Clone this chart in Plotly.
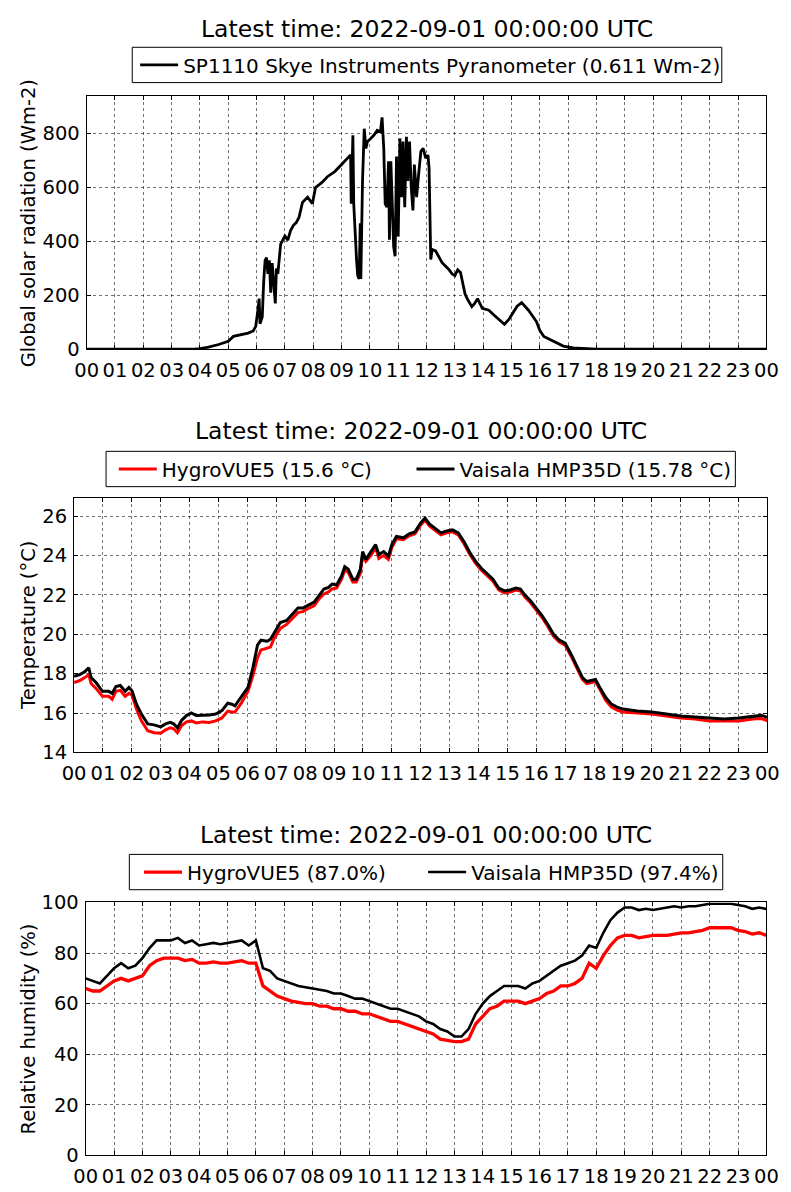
import plotly.graph_objects as go

# ---------------- data ----------------
hour_ticks = list(range(25))
hour_labels = ["00", "01", "02", "03", "04", "05", "06", "07", "08", "09", "10", "11",
               "12", "13", "14", "15", "16", "17", "18", "19", "20", "21", "22", "23", "00"]

solar_hours = [0.0, 1.0, 2.0, 3.0, 3.8, 4.0, 4.3, 4.66, 5.0, 5.18, 5.35, 5.53, 5.7, 5.88, 5.97,
               6.05, 6.09, 6.12, 6.2, 6.25, 6.3, 6.35, 6.4, 6.45, 6.5, 6.55, 6.6, 6.66, 6.7, 6.75,
               6.85, 6.95, 7.0, 7.1, 7.2, 7.3, 7.4, 7.5, 7.62, 7.8, 7.97, 8.08, 8.3, 8.5, 8.77,
               9.0, 9.23, 9.32, 9.34, 9.4, 9.43, 9.48, 9.53, 9.57, 9.62, 9.66, 9.68, 9.74, 9.8,
               9.86, 9.91, 10.03, 10.15, 10.26, 10.37, 10.43, 10.49, 10.54, 10.6, 10.66, 10.69,
               10.74, 10.8, 10.84, 10.89, 10.94, 11.0, 11.06, 11.12, 11.17, 11.23, 11.29, 11.34,
               11.4, 11.46, 11.52, 11.57, 11.65, 11.72, 11.8, 11.88, 11.97, 12.05, 12.09, 12.15,
               12.2, 12.32, 12.45, 12.55, 12.78, 12.9, 13.0, 13.1, 13.2, 13.3, 13.36, 13.45, 13.6,
               13.7, 13.8, 13.97, 14.2, 14.35, 14.5, 14.75, 14.9, 15.0, 15.2, 15.36, 15.6, 15.88,
               16.0, 16.14, 16.3, 16.49, 16.83, 17.18, 17.7, 18.0, 20.0, 22.0, 24.0]
solar_wm2 = [0.5, 0.4, 0.5, 0.5, 1, 3, 8, 18, 30, 48, 52, 55, 60, 68, 85,
             150, 188, 95, 120, 250, 330, 340, 280, 330, 210, 320, 250, 170, 300, 280,
             390, 410, 420, 405, 440, 460, 470, 490, 545, 564, 540, 600, 618, 640, 660,
             685, 709, 721, 540, 794, 539, 406, 330, 273, 261, 467, 261, 624, 818,
             745, 770, 782, 795, 812, 806, 860, 745, 540, 527, 697, 406,
             697, 491, 380, 345, 715, 418, 782, 564, 770, 527, 788, 624,
             770, 600, 515, 685, 564, 648, 733, 745, 709, 720, 673, 333,
             370, 365, 340, 321, 297, 280, 273, 295, 285, 240, 205, 185, 158,
             170, 188, 152, 145, 130, 115, 93, 110, 127, 160, 173, 145, 103,
             70, 48, 40, 30, 12, 5, 1, 0.5, 0.5, 0.5, 0.5]

temp_hours = [0.0, 0.2, 0.37, 0.51, 0.59, 0.76, 0.98, 1.2, 1.32, 1.45, 1.6, 1.77, 1.9, 2.01,
              2.16, 2.33, 2.55, 2.77, 3.0, 3.17, 3.33, 3.45, 3.58, 3.72, 3.89, 4.06, 4.23, 4.45,
              4.68, 4.9, 5.12, 5.32, 5.46, 5.57, 5.79, 6.02, 6.19, 6.35, 6.47, 6.69, 6.8, 6.91,
              7.14, 7.36, 7.58, 7.75, 7.92, 8.09, 8.31, 8.48, 8.65, 8.81, 8.93, 9.09, 9.26, 9.37,
              9.49, 9.65, 9.77, 9.91, 9.99, 10.1, 10.27, 10.44, 10.55, 10.72, 10.88, 11.0, 11.16,
              11.4, 11.6, 11.8, 12.0, 12.15, 12.3, 12.5, 12.7, 12.9, 13.1, 13.3, 13.5, 13.7, 13.9,
              14.1, 14.3, 14.5, 14.7, 14.9, 15.1, 15.3, 15.45, 15.6, 15.8, 16.0, 16.2, 16.4, 16.6,
              16.8, 17.0, 17.2, 17.4, 17.6, 17.75, 17.9, 18.05, 18.2, 18.4, 18.6, 18.8, 19.0, 19.5,
              20.0, 20.5, 21.0, 21.5, 22.0, 22.5, 23.0, 23.5, 23.8, 24.0]
temp_vaisala = [17.87, 17.95, 18.1, 18.3, 17.8, 17.55, 17.1, 17.1, 17.0, 17.35, 17.4, 17.1, 17.3, 17.12,
                16.45, 15.95, 15.45, 15.4, 15.3, 15.45, 15.53, 15.45, 15.25, 15.62, 15.87, 16.0, 15.87, 15.87,
                15.9, 15.95, 16.12, 16.5, 16.45, 16.37, 16.8, 17.3, 18.3, 19.45, 19.7, 19.65, 19.75, 20.05,
                20.6, 20.7, 21.05, 21.33, 21.33, 21.46, 21.63, 21.96, 22.3, 22.38, 22.55, 22.5, 22.96, 23.43,
                23.3, 22.8, 22.8, 23.3, 24.2, 23.8, 24.2, 24.55, 24.05, 24.2, 23.97, 24.55, 24.97,
                24.9, 25.1, 25.2, 25.65, 25.9, 25.6, 25.35, 25.15, 25.25, 25.3, 25.15, 24.7, 24.15, 23.7,
                23.35, 23.1, 22.8, 22.35, 22.2, 22.25, 22.35, 22.3, 22.0, 21.7, 21.35, 20.95, 20.5, 20.0,
                19.7, 19.55, 19.0, 18.4, 17.8, 17.6, 17.65, 17.7, 17.3, 16.8, 16.45, 16.3, 16.2, 16.1,
                16.05, 15.95, 15.85, 15.8, 15.75, 15.7, 15.75, 15.85, 15.88, 15.78]
temp_hygrovue = [17.55, 17.65, 17.8, 17.95, 17.5, 17.25, 16.85, 16.85, 16.7, 17.1, 17.15, 16.85, 17.0, 16.9,
                 16.2, 15.6, 15.1, 15.0, 14.98, 15.15, 15.25, 15.2, 15.0, 15.35, 15.55, 15.6, 15.5, 15.55,
                 15.52, 15.6, 15.75, 16.1, 16.05, 16.05, 16.5, 17.1, 17.9, 18.8, 19.2, 19.3, 19.35, 19.75,
                 20.3, 20.5, 20.85, 21.1, 21.15, 21.3, 21.45, 21.8, 22.05, 22.15, 22.3, 22.35, 22.8, 23.25,
                 23.15, 22.65, 22.65, 23.1, 24.0, 23.7, 24.0, 24.4, 23.85, 24.0, 23.8, 24.4, 24.85,
                 24.8, 25.0, 25.1, 25.55, 25.8, 25.5, 25.25, 25.05, 25.15, 25.2, 25.05, 24.6, 24.05, 23.6,
                 23.25, 23.0, 22.7, 22.25, 22.1, 22.15, 22.25, 22.2, 21.9, 21.6, 21.25, 20.85, 20.4, 19.9,
                 19.6, 19.45, 18.9, 18.3, 17.7, 17.5, 17.55, 17.6, 17.2, 16.65, 16.3, 16.15, 16.05, 16.0,
                 15.95, 15.85, 15.75, 15.7, 15.6, 15.6, 15.6, 15.7, 15.72, 15.6]

rh_hours = [0.0, 0.25, 0.5, 0.75, 1.0, 1.25, 1.5, 1.75, 2.0, 2.25, 2.5, 2.75, 3.0, 3.25, 3.5, 3.75,
            4.0, 4.25, 4.5, 4.75, 5.0, 5.25, 5.5, 5.75, 6.0, 6.25, 6.5, 6.75, 7.0, 7.25, 7.5, 7.75,
            8.0, 8.25, 8.5, 8.75, 9.0, 9.25, 9.5, 9.75, 10.0, 10.25, 10.5, 10.75, 11.0, 11.25, 11.5, 11.75,
            12.0, 12.25, 12.5, 12.75, 13.0, 13.25, 13.5, 13.75, 14.0, 14.25, 14.5, 14.75, 15.0, 15.25, 15.5, 15.75,
            16.0, 16.25, 16.5, 16.75, 17.0, 17.25, 17.5, 17.75, 18.0, 18.25, 18.5, 18.75, 19.0, 19.25, 19.5, 19.75,
            20.0, 20.25, 20.5, 20.75, 21.0, 21.25, 21.5, 21.75, 22.0, 22.25, 22.5, 22.75, 23.0, 23.25, 23.5, 23.75, 24.0]
rh_vaisala = [70, 69, 68, 71, 74, 76, 74, 75, 78, 82, 85, 85, 85, 86, 84, 85,
              83, 83.5, 84, 83.5, 84, 84.5, 85, 83, 85, 74, 73, 70, 69, 68, 67, 66.5,
              66, 65.5, 65, 64, 64, 63, 62, 62, 61, 60, 59, 58, 58, 57, 56, 55,
              53, 52, 50, 49, 47, 47, 50, 56, 60, 63, 65, 67, 67, 67, 66, 68,
              69, 71, 73, 75, 76, 77, 79, 83, 82, 88, 93, 96, 98, 98, 97, 97.5,
              97, 97.5, 98, 98.5, 98, 98.5, 98.5, 99, 99.5, 99.5, 99.5, 99.5, 99, 98.5, 97.5, 98, 97.4]
rh_hygrovue = [66, 65, 65, 67, 69, 70, 69, 70, 71, 75, 77, 78, 78, 78, 77, 77.5,
               76, 76, 76.5, 76, 76, 76.5, 77, 76, 76, 67, 65, 63, 62, 61, 60.5, 60,
               60, 59, 59, 58, 58, 57, 57, 56, 56, 55, 54, 53, 53, 52, 51, 50,
               49, 48, 46, 45.5, 45, 45, 46, 52, 55, 58, 59, 61, 61, 61, 60, 61,
               62, 64, 65, 67, 67, 68, 70, 76, 74, 79, 83, 86, 87, 87, 86, 86.5,
               87, 87, 87, 87.5, 88, 88, 88.5, 89, 90, 90, 90, 90, 89, 88.5, 87.5, 88, 87]

title_text = "Latest time: 2022-09-01 00:00:00 UTC"
solar_name = "SP1110 Skye Instruments Pyranometer (0.611 Wm-2)"
temp_names = ["HygroVUE5 (15.6 °C)", "Vaisala HMP35D (15.78 °C)"]
rh_names = ["HygroVUE5 (87.0%)", "Vaisala HMP35D (97.4%)"]
ylabels = ["Global solar radiation (Wm-2)", "Temperature (°C)", "Relative humidity (%)"]

# ---------------- layout helpers ----------------
W, H = 791, 1192
FONT = "DejaVu Sans"
FS = 19.5


def px_x(p):
    return p / W


def px_y(p):
    return 1 - p / H


fig = go.Figure()

fig.add_trace(go.Scatter(x=solar_hours, y=solar_wm2, mode="lines", name=solar_name,
                         line=dict(color="black", width=2.8), xaxis="x", yaxis="y", legend="legend"))
fig.add_trace(go.Scatter(x=temp_hours, y=temp_hygrovue, mode="lines", name=temp_names[0],
                         line=dict(color="#ff0000", width=3), xaxis="x2", yaxis="y2", legend="legend2"))
fig.add_trace(go.Scatter(x=temp_hours, y=temp_vaisala, mode="lines", name=temp_names[1],
                         line=dict(color="black", width=3), xaxis="x2", yaxis="y2", legend="legend3"))
fig.add_trace(go.Scatter(x=rh_hours, y=rh_hygrovue, mode="lines", name=rh_names[0],
                         line=dict(color="#ff0000", width=3.3), xaxis="x3", yaxis="y3", legend="legend4"))
fig.add_trace(go.Scatter(x=rh_hours, y=rh_vaisala, mode="lines", name=rh_names[1],
                         line=dict(color="black", width=2.6), xaxis="x3", yaxis="y3", legend="legend5"))

panels = [
    # (left, right, top, bottom, yrange, ytickvals)
    (77, 778, 87, 345, [0, 938], [0, 200, 400, 600, 800]),
    (64, 779, 497, 756, [14, 26.9], [14, 16, 18, 20, 22, 24, 26]),
    (76, 778, 909, 1167, [0, 100], [0, 20, 40, 60, 80, 100]),
]

axis_common = dict(showline=True, linecolor="black", linewidth=1, mirror="ticks",
                   ticks="inside", ticklen=4, tickwidth=1, tickcolor="black",
                   showgrid=True, gridcolor="rgba(0,0,0,0.55)", griddash="dot", gridwidth=1,
                   zeroline=False, tickfont=dict(family=FONT, size=FS, color="black"))

for i, (l, r, t, b, yr, ytv) in enumerate(panels):
    sfx = "" if i == 0 else str(i + 1)
    fig.layout["xaxis" + sfx] = dict(domain=[px_x(l), px_x(r)], range=[0, 24],
                                     tickvals=hour_ticks, ticktext=hour_labels, tickangle=0,
                                     ticklabelstandoff=3, anchor="y" + sfx, **axis_common)
    fig.layout["yaxis" + sfx] = dict(domain=[px_y(b), px_y(t)], range=yr, tickvals=ytv,
                                     ticklabelstandoff=2, anchor="x" + sfx, **axis_common)

annotations = []
for (l, r, t, b, yr, ytv), yc in zip(panels, (18, 428, 840)):
    annotations.append(dict(text=title_text, x=px_x((l + r) / 2), y=px_y(yc), xref="paper", yref="paper",
                            xanchor="center", yanchor="middle", showarrow=False,
                            font=dict(family=FONT, size=23.5, color="black")))
for lab, yc in zip(ylabels, (216, 626.5, 1038)):
    annotations.append(dict(text=lab, x=px_x(17), y=px_y(yc), xref="paper", yref="paper",
                            xanchor="center", yanchor="middle", showarrow=False, textangle=-90,
                            font=dict(family=FONT, size=FS, color="black")))

# legend frames (left, right, top, bottom) in pixels
legend_boxes = [(124, 732, 37, 73), (97, 746, 449, 485), (121, 733, 860, 896)]
shapes = [dict(type="rect", xref="paper", yref="paper",
               x0=px_x(l), x1=px_x(r), y0=px_y(b), y1=px_y(t),
               line=dict(color="black", width=1), fillcolor="rgba(0,0,0,0)")
          for (l, r, t, b) in legend_boxes]

legend_common = dict(orientation="h", xanchor="left", yanchor="middle", bgcolor="rgba(0,0,0,0)",
                     borderwidth=0, itemwidth=38,
                     font=dict(family=FONT, size=20, color="black"))

fig.update_layout(
    width=W, height=H, autosize=False,
    margin=dict(l=0, r=0, t=0, b=0),
    paper_bgcolor="white", plot_bgcolor="white",
    showlegend=True,
    legend=dict(x=px_x(127), y=px_y(55), **legend_common),
    legend2=dict(x=px_x(105), y=px_y(467), **legend_common),
    legend3=dict(x=px_x(412), y=px_y(467), **legend_common),
    legend4=dict(x=px_x(131), y=px_y(878), **legend_common),
    legend5=dict(x=px_x(424), y=px_y(878), **legend_common),
    annotations=annotations,
    shapes=shapes,
)

fig.write_html("out.html")
